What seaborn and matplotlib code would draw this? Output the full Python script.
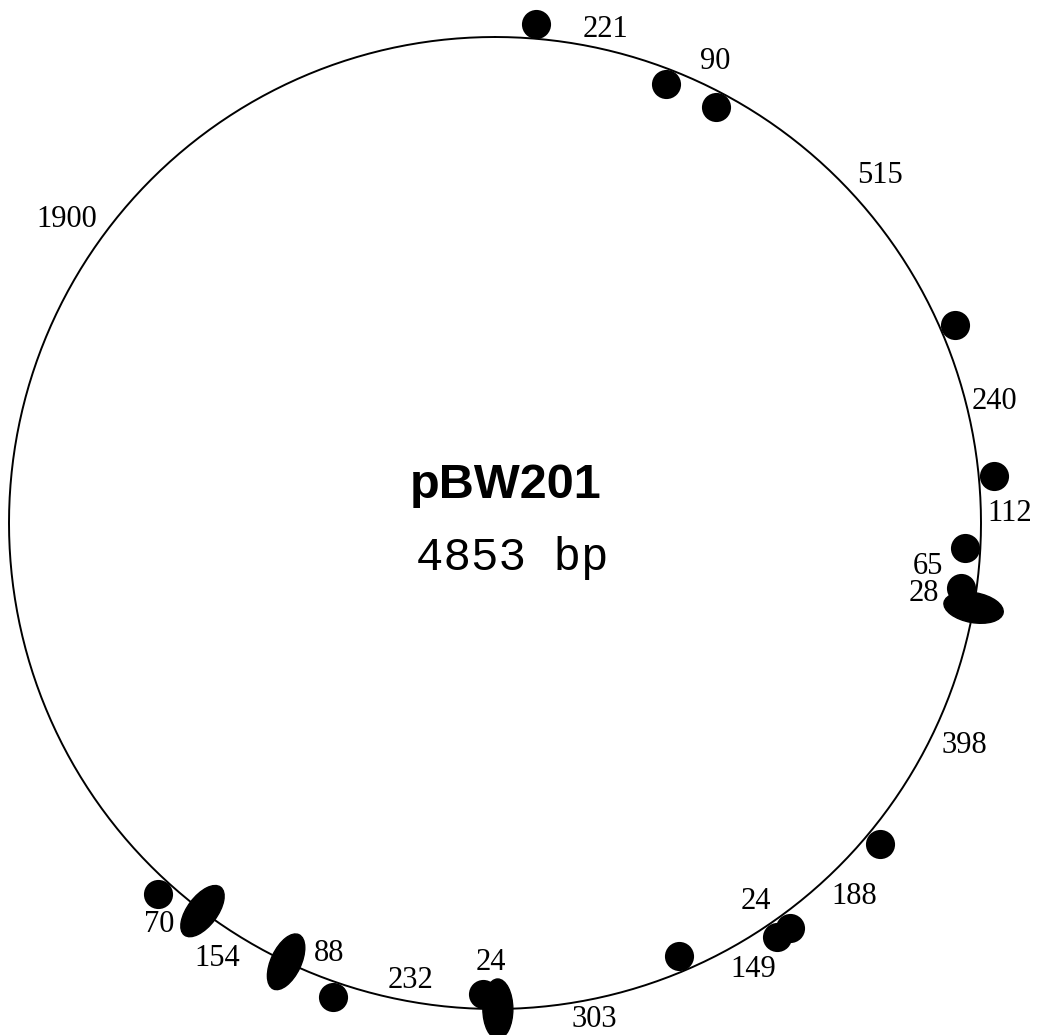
import numpy as np
import pandas as pd
import seaborn as sns
import matplotlib.pyplot as plt
from matplotlib.patches import Ellipse

# restriction fragments, clockwise from the first site (bp)
fragments = [221, 90, 515, 240, 112, 65, 28, 398, 188, 24, 149, 303, 24, 232, 88, 154, 70, 1900]
# where each fragment label sits relative to the circle
label_side = ['out', 'out', 'out', 'out', 'out', 'in', 'in', 'out', 'out',
              'in', 'out', 'out', 'in', 'in', 'in', 'out', 'out', 'out']
# marker drawn at the site that starts each fragment
site_marker = ['out', 'in', 'in', 'out', 'out', 'in', 'in', 'ellipse', 'out',
               'out', 'out', 'in', 'ellipse', 'in', 'out', 'ellipse', 'ellipse', 'out']
first_site = 63
plasmid_name = 'pBW201'
plasmid_size = '4853 bp'

# layout (pixel-like data units)
cx, cy, R = 495, 523, 486
dot_off = 15
label_gap = {5: 36, 6: 36, 12: 32, 16: 16}
label_angle_override = {17: 306}

total = sum(fragments)
starts = first_site + np.concatenate([[0], np.cumsum(fragments)[:-1]])
site_ang = starts / total * 360.0


def polar(ang, r):
    t = np.radians(ang)
    return cx + r * np.sin(t), cy - r * np.cos(t)


sns.set_theme(style='white')
fig = plt.figure(figsize=(10.38, 10.35), dpi=100)
ax = fig.add_axes([0, 0, 1, 1])
ax.set_xlim(0, 1038)
ax.set_ylim(1035, 0)
ax.set_aspect('equal')
ax.axis('off')

# backbone circle
th = np.linspace(0, 360, 721)
circ_x, circ_y = polar(th, R)
sns.lineplot(x=circ_x, y=circ_y, sort=False, estimator=None, color='black', lw=1.4, ax=ax)

# dot markers
rows = []
for a, m in zip(site_ang, site_marker):
    if m == 'ellipse':
        continue
    r = R + dot_off if m == 'out' else R - dot_off
    x, y = polar(a, r)
    rows.append({'x': x, 'y': y})
dots = pd.DataFrame(rows)
sns.scatterplot(data=dots, x='x', y='y', s=440, color='black', linewidth=0, ax=ax, zorder=3)

# ellipse markers, long axis radial
for a, m in zip(site_ang, site_marker):
    if m != 'ellipse':
        continue
    x, y = polar(a, R)
    t = np.radians(a)
    rot = np.degrees(np.arctan2(-np.cos(t), np.sin(t)))
    ax.add_patch(Ellipse((x, y), width=60, height=30, angle=rot, color='black', zorder=3))

# fragment labels
ends = np.append(site_ang[1:], site_ang[0] + 360)
for i, (frag, side) in enumerate(zip(fragments, label_side)):
    a = label_angle_override.get(i, (site_ang[i] + ends[i]) / 2)
    gap = label_gap.get(i, 6)
    t = np.radians(a)
    ux, uy = np.sin(t), -np.cos(t)
    if side == 'out':
        r = R + gap
    else:
        r = R - gap
        ux, uy = -ux, -uy
    x, y = polar(a, r)
    ha = 'left' if ux > 0.3 else ('right' if ux < -0.3 else 'center')
    va = 'bottom' if uy < -0.3 else ('top' if uy > 0.3 else 'center')
    ax.text(x, y, str(frag), ha=ha, va=va, fontsize=22, family='Liberation Serif', color='black')

# centre title
ax.text(506, 485, plasmid_name, ha='center', va='center', fontsize=35,
        fontweight='bold', family='Liberation Sans', color='black')
ax.text(512, 558, plasmid_size, ha='center', va='center', fontsize=33,
        family='Liberation Mono', color='black')

fig.savefig('out.png', dpi=100)
